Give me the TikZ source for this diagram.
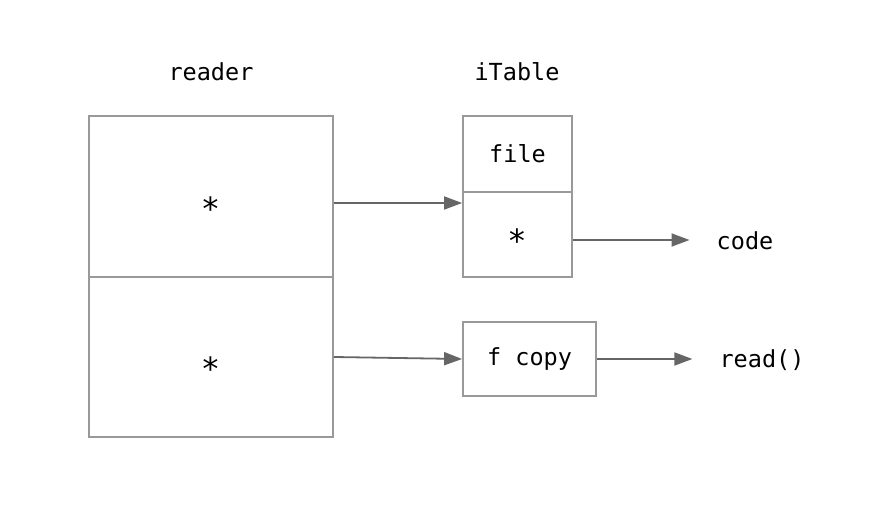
\documentclass[tikz,border=0pt]{standalone}
\usepackage{fontspec}
\setmonofont{DejaVu Sans Mono}
\usetikzlibrary{arrows.meta,positioning}
\begin{document}
\begin{tikzpicture}[x=1pt,y=-1pt,
  cell/.style={draw=black!40,line width=1.8pt,inner sep=0pt},
  lbl/.style={inner sep=2pt},
  ptr/.style={inner sep=0pt,font=\ttfamily\fontsize{32}{34}\selectfont},
  arr/.style={draw=black!60,line width=1.8pt,-{Triangle[length=18pt,width=13pt]}},
  font=\ttfamily\fontsize{23.5}{27}\selectfont]
\useasboundingbox (0,0) rectangle (870,526);
% Reader with two pointer cells
\node[lbl] (readerlbl) at (211,72) {reader};
\node[cell,minimum width=244pt,minimum height=161pt] (readerTop) at (211,196.5) {};
\node[cell,minimum width=244pt,minimum height=160pt,below=-1.8pt of readerTop] (readerBot) {};
\node[ptr] (star1) at (210.5,209) {*};
\node[ptr] (star2) at (210.5,369) {*};
% iTable
\node[lbl] (tablbl) at (517,72) {iTable};
\node[cell,minimum width=109pt,minimum height=76pt] (tabFile) at (517.5,154) {file};
\node[cell,minimum width=109pt,minimum height=85pt,below=-1.8pt of tabFile] (tabPtr) {};
\node[ptr] (star3) at (517,241) {*};
\node[cell,minimum width=133pt,minimum height=74pt] (fcopy) at (529.5,359) {f copy};
% Targets
\node[lbl] (code) at (745,241) {code};
\node[lbl] (readfn) at (762,360) {read()};
\coordinate (ptrout) at ([yshift=-5.5]tabPtr.east);
\coordinate (codein) at ([xshift=-25]code.west |- ptrout);
\draw[arr] ([yshift=-6.5]readerTop.east) -- ([yshift=-6.5]readerTop.east -| tabPtr.west);
\draw[arr] (ptrout) -- (codein);
\draw[arr] (readerBot.east) -- (fcopy.west);
\draw[arr] (fcopy.east) -- ([xshift=-25]readfn.west |- fcopy.east);
\end{tikzpicture}
\end{document}
